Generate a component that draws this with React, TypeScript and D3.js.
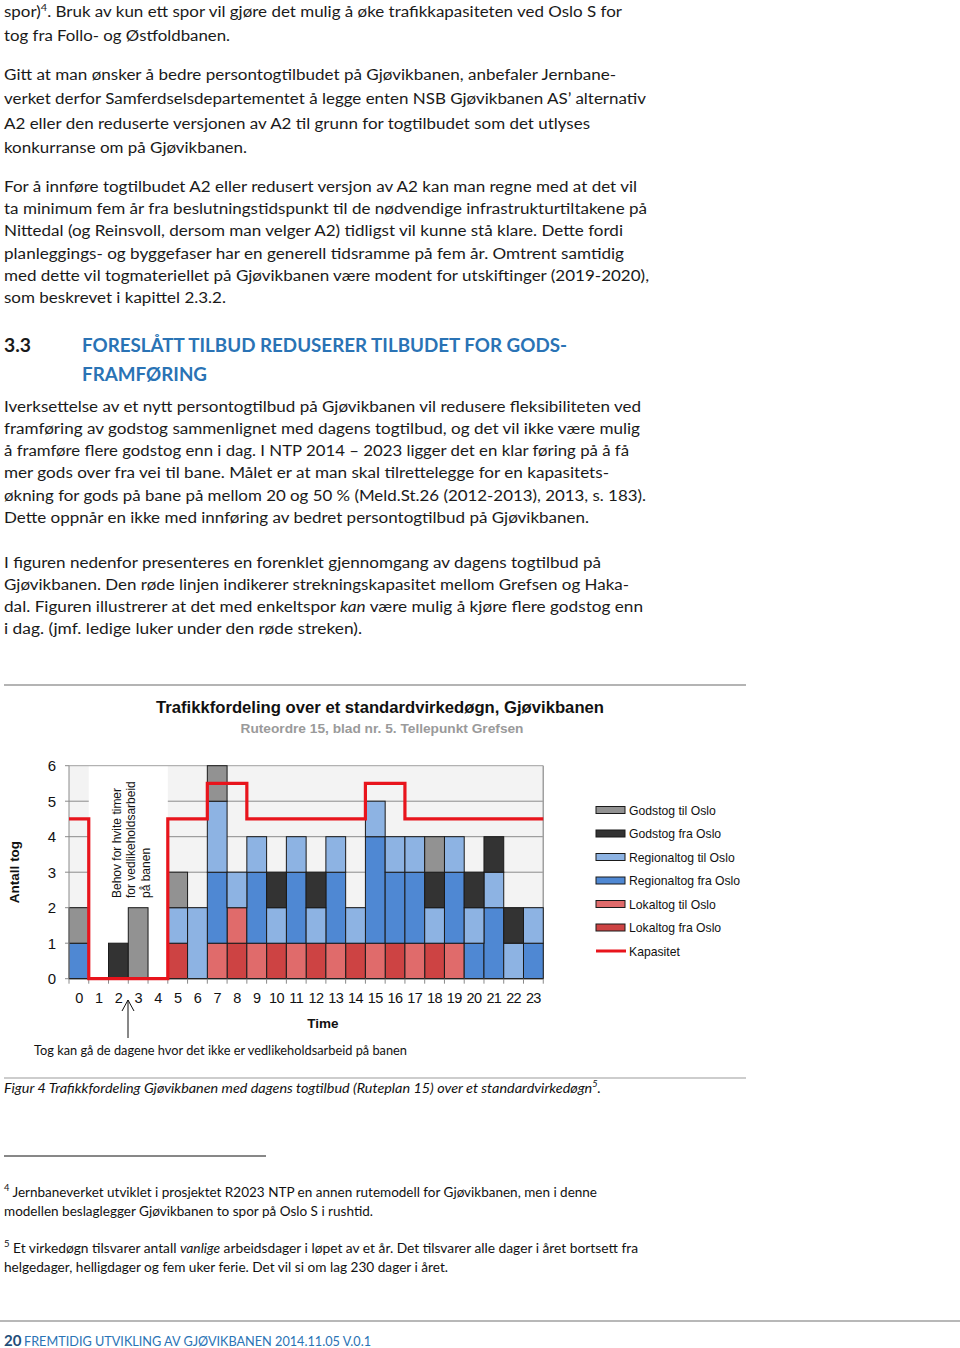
import React from 'react';
import * as d3 from 'd3';

// ---------- chart data ----------
const hours = ['0','1','2','3','4','5','6','7','8','9','10','11','12','13','14','15','16','17','18','19','20','21','22','23'];
const lokalFra =    [0,0,0,0,0,1,0,0,1,0,1,0,1,0,1,0,1,0,1,0,0,0,0,0];
const lokalTil =    [0,0,0,0,0,0,0,1,1,1,0,1,0,1,0,1,0,1,0,1,0,0,0,0];
const regionalFra = [1,0,0,0,0,0,0,2,0,2,0,2,0,2,0,3,2,2,0,2,1,2,0,1];
const regionalTil = [0,0,0,0,0,1,2,2,1,1,1,1,1,1,1,1,1,1,1,1,1,1,1,1];
const godsFra =     [0,0,1,0,0,0,0,0,0,0,1,0,1,0,0,0,0,0,1,0,1,1,1,0];
const godsTil =     [1,0,0,2,0,1,0,1,0,0,0,0,0,0,0,0,0,0,1,0,0,0,0,0];
const capacity =    [4.5,0,0,0,0,4.5,4.5,5.5,5.5,4.5,4.5,4.5,4.5,4.5,4.5,5.5,5.5,4.5,4.5,4.5,4.5,4.5,4.5,4.5];
const yTicks = [0,1,2,3,4,5,6];
const maintenanceHours = ['1','2','3','4'];

const seriesKeys = ['lokalFra','lokalTil','regionalFra','regionalTil','godsFra','godsTil'];
const seriesValues: Record<string, number[]> = { lokalFra, lokalTil, regionalFra, regionalTil, godsFra, godsTil };
const seriesColors: Record<string, string> = {
  lokalFra: '#cd4343',
  lokalTil: '#e06b6b',
  regionalFra: '#4f88d3',
  regionalTil: '#8db3e3',
  godsFra: '#333333',
  godsTil: '#929292',
};
const legendItems = [
  { key: 'godsTil', label: 'Godstog til Oslo' },
  { key: 'godsFra', label: 'Godstog fra Oslo' },
  { key: 'regionalTil', label: 'Regionaltog til Oslo' },
  { key: 'regionalFra', label: 'Regionaltog fra Oslo' },
  { key: 'lokalTil', label: 'Lokaltog til Oslo' },
  { key: 'lokalFra', label: 'Lokaltog fra Oslo' },
  { key: 'kap', label: 'Kapasitet' },
];

// ---------- document text ----------
type Line = { t: string; y: number; w?: number; x?: number };
const bodyLines: Line[] = [
  { t: 'spor)^4^. Bruk av kun ett spor vil gjøre det mulig å øke trafikkapasiteten ved Oslo S for', y: 17, w: 618 },
  { t: 'tog fra Follo- og Østfoldbanen.', y: 41, w: 226 },
  { t: 'Gitt at man ønsker å bedre persontogtilbudet på Gjøvikbanen, anbefaler Jernbane-', y: 80, w: 612 },
  { t: 'verket derfor Samferdselsdepartementet å legge enten NSB Gjøvikbanen AS’ alternativ', y: 104, w: 642 },
  { t: 'A2 eller den reduserte versjonen av A2 til grunn for togtilbudet som det utlyses', y: 129, w: 586 },
  { t: 'konkurranse om på Gjøvikbanen.', y: 153, w: 243 },
  { t: 'For å innføre togtilbudet A2 eller redusert versjon av A2 kan man regne med at det vil', y: 192, w: 633 },
  { t: 'ta minimum fem år fra beslutningstidspunkt til de nødvendige infrastrukturtiltakene på', y: 214, w: 643 },
  { t: 'Nittedal (og Reinsvoll, dersom man velger A2) tidligst vil kunne stå klare. Dette fordi', y: 236, w: 619 },
  { t: 'planleggings- og byggefaser har en generell tidsramme på fem år. Omtrent samtidig', y: 259, w: 620 },
  { t: 'med dette vil togmateriellet på Gjøvikbanen være modent for utskiftinger (2019-2020),', y: 281, w: 645 },
  { t: 'som beskrevet i kapittel 2.3.2.', y: 303, w: 222 },
  { t: 'Iverksettelse av et nytt persontogtilbud på Gjøvikbanen vil redusere fleksibiliteten ved', y: 412, w: 637 },
  { t: 'framføring av godstog sammenlignet med dagens togtilbud, og det vil ikke være mulig', y: 434, w: 636 },
  { t: 'å framføre flere godstog enn i dag. I NTP 2014 – 2023 ligger det en klar føring på å få', y: 456, w: 625 },
  { t: 'mer gods over fra vei til bane. Målet er at man skal tilrettelegge for en kapasitets-', y: 478, w: 605 },
  { t: 'økning for gods på bane på mellom 20 og 50 %  (Meld.St.26 (2012-2013), 2013, s. 183).', y: 501, w: 642 },
  { t: 'Dette oppnår en ikke med innføring av bedret persontogtilbud på Gjøvikbanen.', y: 523, w: 585 },
  { t: 'I figuren nedenfor presenteres en forenklet gjennomgang av dagens togtilbud på', y: 568, w: 597 },
  { t: 'Gjøvikbanen. Den røde linjen indikerer strekningskapasitet mellom Grefsen og Haka-', y: 590, w: 625 },
  { t: 'dal. Figuren illustrerer at det med enkeltspor *kan* være mulig å kjøre flere godstog enn', y: 612, w: 639 },
  { t: 'i dag. (jmf. ledige luker under den røde streken).', y: 634, w: 358 },
];
const footLines: Line[] = [
  { t: '^4^ Jernbaneverket utviklet i prosjektet R2023 NTP en annen rutemodell for Gjøvikbanen, men i denne', y: 1197, w: 593 },
  { t: 'modellen beslaglegger Gjøvikbanen to spor på Oslo S i rushtid.', y: 1216, w: 369 },
  { t: '^5^  Et virkedøgn tilsvarer antall *vanlige* arbeidsdager i løpet av et år. Det tilsvarer alle dager i året bortsett fra', y: 1253, w: 634 },
  { t: 'helgedager, helligdager og fem uker ferie. Det vil si om lag 230 dager i året.', y: 1272, w: 444 },
];

function renderRich(t: string, supSize: number) {
  // ^x^ superscript, *x* italic
  const parts: React.ReactNode[] = [];
  const re = /(\^[^^]+\^|\*[^*]+\*)/g;
  let last = 0;
  let m: RegExpExecArray | null;
  let k = 0;
  let pendingDown = false;
  while ((m = re.exec(t)) !== null) {
    if (m.index > last) {
      parts.push(<tspan key={k++} dy={pendingDown ? 6 : undefined}>{t.slice(last, m.index)}</tspan>);
      pendingDown = false;
    }
    const tok = m[0];
    if (tok[0] === '^') {
      parts.push(<tspan key={k++} fontSize={supSize} dy={-6}>{tok.slice(1, -1)}</tspan>);
      pendingDown = true;
    } else {
      parts.push(<tspan key={k++} fontStyle="italic" dy={pendingDown ? 6 : undefined}>{tok.slice(1, -1)}</tspan>);
      pendingDown = false;
    }
    last = m.index + tok.length;
  }
  if (last < t.length) parts.push(<tspan key={k++} dy={pendingDown ? 6 : undefined}>{t.slice(last)}</tspan>);
  return parts;
}

const BODY_FONT = 'Lato, "Open Sans", sans-serif';
const CHART_FONT = '"Liberation Sans", Arial, sans-serif';

export default function App() {
  const left = 69, right = 543.25, top = 765.7, bottom = 978.7;
  const x = d3.scaleBand<string>().domain(hours).range([left, right]).padding(0);
  const y = d3.scaleLinear().domain([0, 6]).range([bottom, top]);

  const table = hours.map((h, i) => {
    const row: any = { hour: h };
    seriesKeys.forEach(k => { row[k] = seriesValues[k][i]; });
    return row;
  });
  const stacked = d3.stack<any>().keys(seriesKeys)(table);

  const capPts: [number, number][] = hours.map((h, i) => [x(h)!, y(capacity[i])]);
  capPts.push([right, y(capacity[capacity.length - 1])]);
  const capLine = d3.line().curve(d3.curveStepAfter)(capPts) || '';

  const mStart = x(maintenanceHours[0])!;
  const mEnd = x(maintenanceHours[maintenanceHours.length - 1])! + x.bandwidth();

  const legendX = 596;
  const legendY0 = 810;
  const legendStep = 23.5;

  const arrowX = 128;

  return (
    <svg width={960} height={1348} style={{ position: 'absolute', left: 0, top: 0, background: '#fff' }}>
      {/* body text */}
      <g fontFamily={BODY_FONT} fontSize={15.5} fill="#1a1a1a">
        {bodyLines.map((l, i) => (
          <text key={i} x={4} y={l.y} textLength={l.w} lengthAdjust="spacingAndGlyphs">{renderRich(l.t, 10)}</text>
        ))}
      </g>
      {/* heading */}
      <g fontFamily={BODY_FONT} fontWeight="bold" fontSize={19}>
        <text x={4} y={352} fill="#1a1a1a" textLength={27} lengthAdjust="spacingAndGlyphs">3.3</text>
        <text x={82} y={352} fill="#2a73b5" textLength={485} lengthAdjust="spacingAndGlyphs">FORESLÅTT TILBUD REDUSERER TILBUDET FOR GODS-</text>
        <text x={82} y={381} fill="#2a73b5" textLength={125} lengthAdjust="spacingAndGlyphs">FRAMFØRING</text>
      </g>

      {/* figure frame lines */}
      <line x1={4} x2={746} y1={685} y2={685} stroke="#b4b4b4" strokeWidth={2} />
      <line x1={4} x2={746} y1={1078} y2={1078} stroke="#bdbdbd" strokeWidth={1.5} />

      {/* chart title */}
      <text x={380} y={713} textAnchor="middle" fontFamily={CHART_FONT} fontWeight="bold" fontSize={16.5} fill="#111" textLength={448} lengthAdjust="spacingAndGlyphs">Trafikkfordeling over et standardvirkedøgn, Gjøvikbanen</text>
      <text x={382} y={733} textAnchor="middle" fontFamily={CHART_FONT} fontWeight="bold" fontSize={13} fill="#9a9a9a" textLength={283} lengthAdjust="spacingAndGlyphs">Ruteordre 15, blad nr. 5. Tellepunkt Grefsen</text>

      {/* plot background */}
      <rect x={left} y={top} width={right - left} height={bottom - top} fill="#f3f3f3" />
      {yTicks.filter(t => t > 0 && t < 6).map(t => (
        <line key={t} x1={left} x2={right} y1={y(t)} y2={y(t)} stroke="#8a8a8a" strokeWidth={1} />
      ))}
      {/* maintenance white band */}
      <rect x={mStart} y={top} width={mEnd - mStart} height={bottom - top} fill="#ffffff" />
      <line x1={left} x2={right} y1={y(6)} y2={y(6)} stroke="#a0a0a0" strokeWidth={1} />
      <line x1={right} x2={right} y1={top} y2={bottom} stroke="#a0a0a0" strokeWidth={1.5} />

      {/* bars */}
      {stacked.map(s => (
        <g key={s.key} fill={seriesColors[s.key]}>
          {s.map((d, i) => (d[1] - d[0] > 0 ? (
            <rect key={i} x={x(hours[i])!} y={y(d[1])} width={x.bandwidth()} height={y(d[0]) - y(d[1])} stroke="#1a1a1a" strokeWidth={1} />
          ) : null))}
        </g>
      ))}

      {/* axes */}
      <line x1={left} x2={left} y1={top} y2={bottom} stroke="#8a8a8a" strokeWidth={1} />
      {yTicks.map(t => (
        <g key={t}>
          <line x1={left - 4} x2={left} y1={y(t)} y2={y(t)} stroke="#8a8a8a" />
          <text x={56} y={y(t) + 5.5} textAnchor="end" fontFamily={CHART_FONT} fontSize={15} fill="#111">{t}</text>
        </g>
      ))}
      <line x1={left} x2={right} y1={bottom} y2={bottom} stroke="#222" strokeWidth={1.2} />
      {hours.map(h => (
        <line key={'t' + h} x1={x(h)!} x2={x(h)!} y1={bottom} y2={bottom + 5} stroke="#8a8a8a" />
      ))}
      <line x1={right} x2={right} y1={bottom} y2={bottom + 5} stroke="#8a8a8a" />
      {hours.map(h => (
        <text key={'l' + h} x={x(h)! + x.bandwidth() / 2} y={1003} textAnchor="middle" fontFamily={CHART_FONT} fontSize={14.5} fill="#111" letterSpacing={-0.6}>{h}</text>
      ))}

      {/* capacity line */}
      <path d={capLine} fill="none" stroke="#e8141c" strokeWidth={3.2} />

      {/* axis titles */}
      <text transform="translate(19,872) rotate(-90)" textAnchor="middle" fontFamily={CHART_FONT} fontWeight="bold" fontSize={13.5} fill="#111">Antall tog</text>
      <text x={323} y={1028} textAnchor="middle" fontFamily={CHART_FONT} fontWeight="bold" fontSize={13.5} fill="#111">Time</text>

      {/* maintenance note */}
      <g fontFamily={CHART_FONT} fontSize={12} fill="#111">
        <text transform="translate(121,898) rotate(-90)">Behov for hvite timer</text>
        <text transform="translate(135,898) rotate(-90)">for vedlikeholdsarbeid</text>
        <text transform="translate(150,898) rotate(-90)">på banen</text>
      </g>

      {/* legend */}
      <g fontFamily={CHART_FONT} fontSize={12.2} fill="#111">
        {legendItems.map((it, i) => {
          const cy = legendY0 + i * legendStep;
          return (
            <g key={it.key}>
              {it.key === 'kap' ? (
                <line x1={legendX} x2={legendX + 30} y1={cy} y2={cy} stroke="#e8141c" strokeWidth={3} />
              ) : (
                <rect x={legendX} y={cy - 3.5} width={29} height={7} fill={seriesColors[it.key]} stroke="#1a1a1a" strokeWidth={1} />
              )}
              <text x={legendX + 33} y={cy + 4.5}>{it.label}</text>
            </g>
          );
        })}
      </g>

      {/* arrow annotation */}
      <line x1={arrowX} x2={arrowX} y1={1038} y2={1000} stroke="#111" strokeWidth={1} />
      <path d={`M${arrowX - 6},${1011} L${arrowX},${1000} L${arrowX + 6},${1011}`} fill="none" stroke="#111" strokeWidth={1} />
      <text x={34} y={1055} fontFamily={BODY_FONT} fontSize={13} fill="#111" textLength={373} lengthAdjust="spacingAndGlyphs">Tog kan gå de dagene hvor det ikke er vedlikeholdsarbeid på banen</text>

      {/* caption */}
      <text x={4} y={1093} fontFamily={BODY_FONT} fontStyle="italic" fontSize={14} fill="#111" textLength={597} lengthAdjust="spacingAndGlyphs">
        {renderRich('Figur 4 Trafikkfordeling Gjøvikbanen med dagens togtilbud (Ruteplan 15) over et standardvirkedøgn^5^.', 9)}
      </text>

      {/* footnotes */}
      <line x1={4} x2={266} y1={1156} y2={1156} stroke="#111" strokeWidth={1} />
      <g fontFamily={BODY_FONT} fontSize={13} fill="#111">
        {footLines.map((l, i) => (
          <text key={i} x={4} y={l.y} textLength={l.w} lengthAdjust="spacingAndGlyphs">{renderRich(l.t, 9)}</text>
        ))}
      </g>

      {/* footer */}
      <line x1={0} x2={960} y1={1321} y2={1321} stroke="#b8b8b8" strokeWidth={2} />
      <text x={4} y={1346} fontFamily={BODY_FONT} fontSize={15} fontWeight="bold" fill="#1f4e79">20</text>
      <text x={24} y={1346} fontFamily={BODY_FONT} fontSize={13.5} fill="#2a73b5" textLength={347} lengthAdjust="spacingAndGlyphs">FREMTIDIG UTVIKLING AV GJØVIKBANEN 2014.11.05 V.0.1</text>
    </svg>
  );
}
